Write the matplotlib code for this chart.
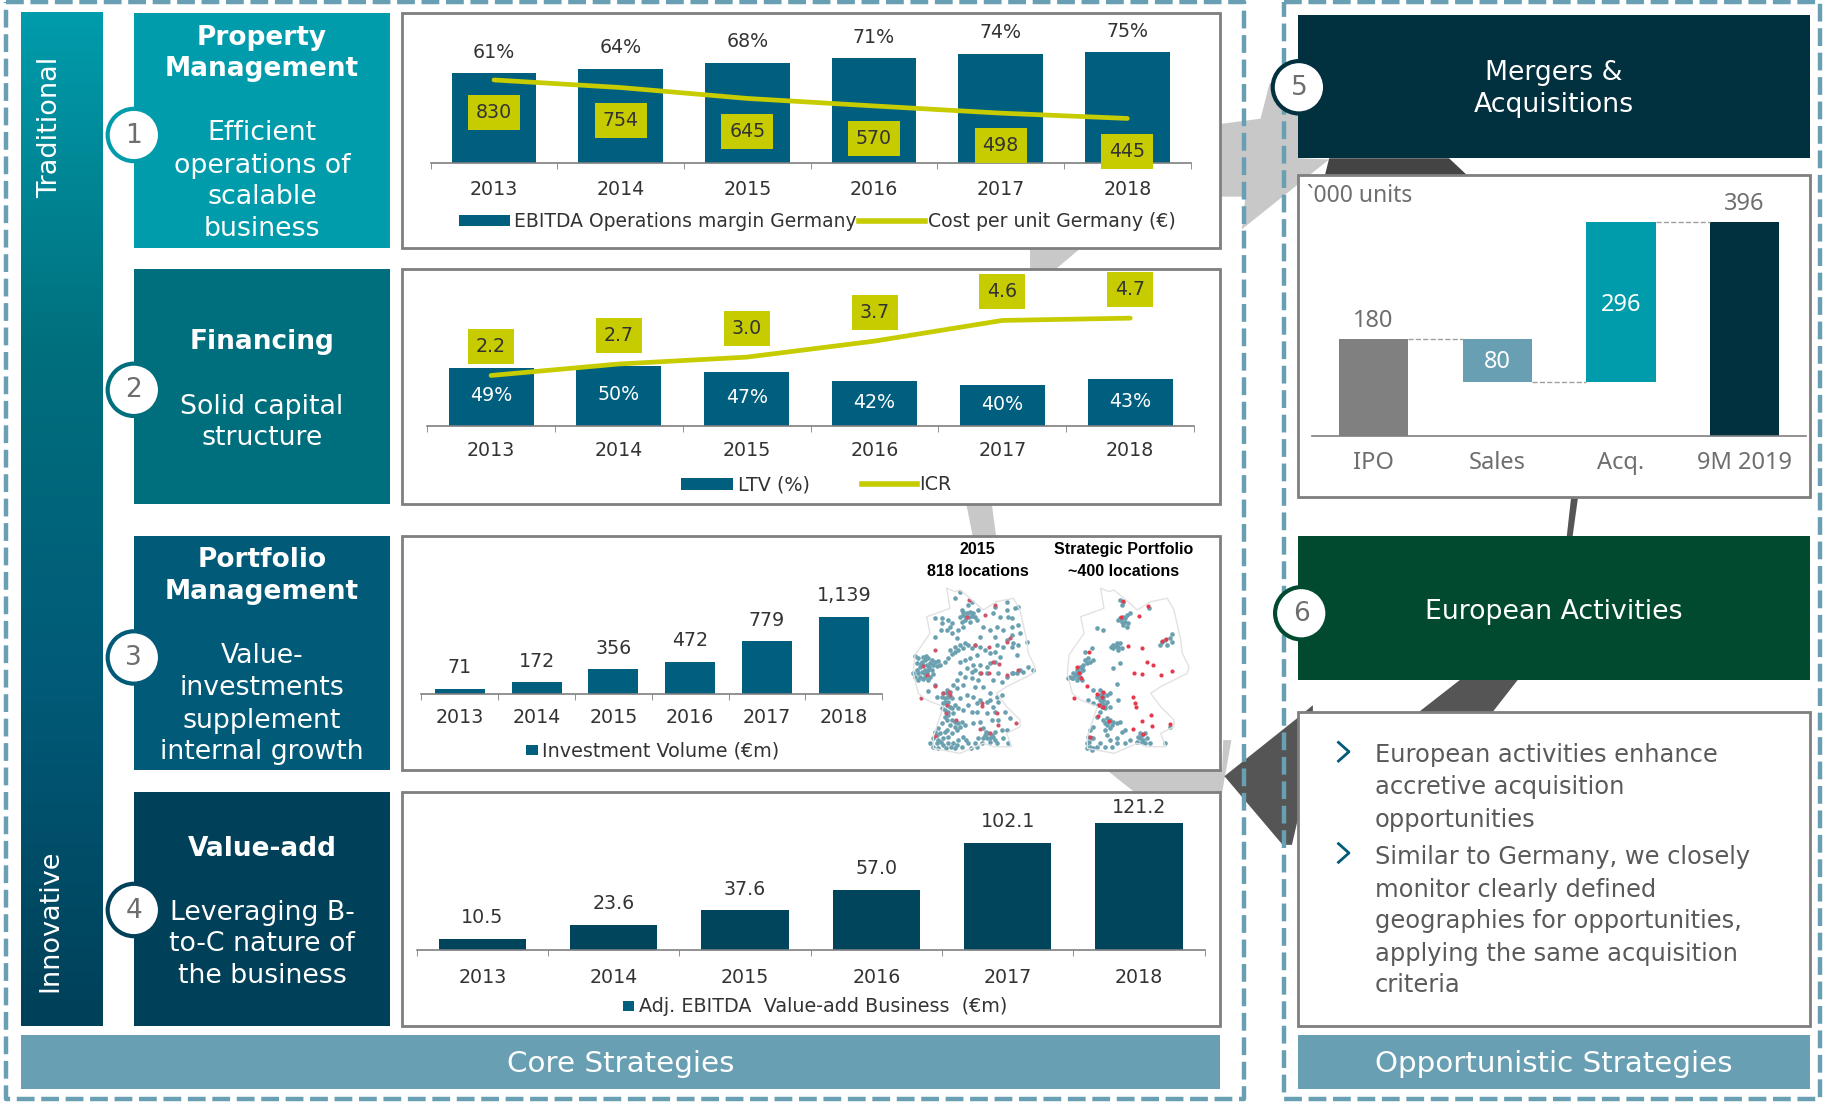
import numpy as np
import matplotlib
matplotlib.use('Agg')
import matplotlib.pyplot as plt
from matplotlib.colors import LinearSegmentedColormap
from matplotlib.patches import Rectangle, Circle, Polygon

# Chart data
years = ['2013', '2014', '2015', '2016', '2017', '2018']
margin = [61, 64, 68, 71, 74, 75]
cost_unit = [830, 754, 645, 570, 498, 445]
ltv = [49, 50, 47, 42, 40, 43]
icr = [2.2, 2.7, 3.0, 3.7, 4.6, 4.7]
invest = [71, 172, 356, 472, 779, 1139]
invest_labels = ['71', '172', '356', '472', '779', '1,139']
adj_ebitda = [10.5, 23.6, 37.6, 57.0, 102.1, 121.2]
wf_cats = ['IPO', 'Sales', 'Acq.', '9M 2019']
wf_bottom = [0, 100, 100, 0]
wf_height = [180, 80, 296, 396]

# Map dots (map crop coordinates)
germany_outline = [(200, 175), (225, 185), (240, 180), (270, 205), (310, 240), (350, 215), (400, 205), (420, 240),
                   (440, 330), (445, 370), (465, 410), (460, 430), (420, 450), (380, 470), (350, 490), (380, 530),
                   (420, 570), (420, 590), (380, 610), (395, 650), (340, 650), (310, 640), (240, 670), (160, 655),
                   (160, 620), (190, 530), (140, 510), (115, 490), (100, 430), (105, 375), (150, 310), (140, 260),
                   (210, 235), (200, 175)]
map1_teal = [(105, 378), (115, 385), (125, 395), (135, 390), (145, 385), (155, 390), (165, 395), (175, 392), (130, 405),
             (140, 405), (150, 400), (160, 405), (170, 408), (180, 405), (120, 410), (110, 420), (100, 430), (115, 430),
             (125, 425), (135, 420), (145, 420), (155, 420), (105, 440), (120, 440), (135, 440), (150, 440), (160, 432),
             (145, 450), (165, 465), (145, 482), (170, 500), (190, 490), (200, 480), (210, 485), (195, 505), (205, 500),
             (215, 505), (190, 520), (200, 525), (210, 530), (195, 540), (205, 545), (215, 535), (225, 525), (195, 560),
             (200, 570), (185, 580), (175, 595), (215, 570), (225, 575), (235, 580), (245, 575), (210, 585), (225, 590),
             (240, 590), (255, 585), (165, 605), (180, 610), (195, 605), (160, 625), (175, 630), (190, 625), (205, 620),
             (215, 610), (160, 650), (175, 655), (190, 645), (205, 640), (220, 640), (235, 630), (250, 620), (245, 650),
             (225, 655), (265, 640), (315, 615), (325, 610), (335, 615), (320, 625), (330, 625), (340, 620), (345, 605),
             (295, 625), (285, 640), (305, 640), (350, 640), (370, 625), (385, 640), (210, 360), (225, 350), (240, 345),
             (255, 340), (215, 372), (235, 360), (265, 345), (285, 345), (300, 350), (315, 360), (330, 370), (240, 395),
             (255, 390), (270, 385), (290, 375), (165, 265), (185, 265), (185, 280), (205, 270), (210, 290), (215, 310),
             (230, 325), (165, 320), (240, 260), (250, 255), (262, 250), (270, 245), (280, 250), (255, 270), (245, 240),
             (265, 225), (275, 215), (240, 185), (225, 205), (268, 262), (285, 262), (295, 240), (340, 250), (345, 230),
             (380, 215), (405, 235), (415, 230), (380, 240), (360, 260), (395, 265), (415, 285), (420, 310), (395, 315),
             (380, 330), (400, 340), (440, 335), (370, 350), (410, 375), (445, 410), (460, 420), (420, 420), (400, 430),
             (380, 440), (330, 400), (345, 395), (360, 380), (300, 405), (285, 420), (260, 415), (240, 430), (230, 450),
             (255, 440), (275, 445), (300, 430), (320, 430), (355, 430), (340, 450), (365, 455), (250, 465), (285, 470),
             (310, 470), (330, 490), (350, 500), (365, 495), (355, 515), (340, 530), (260, 495), (280, 500), (290, 520),
             (265, 525), (250, 540), (275, 545), (320, 550), (375, 545), (390, 565), (355, 570), (335, 570), (300, 575),
             (280, 580), (310, 595), (380, 600), (128, 380), (138, 378), (112, 398), (122, 402), (148, 410), (132, 430),
             (142, 430), (128, 448), (115, 450), (200, 490), (185, 500), (205, 515), (195, 515), (185, 535), (205, 555),
             (220, 550), (230, 600), (200, 600), (170, 640), (182, 635), (198, 655), (212, 650), (170, 615), (150, 640),
             (232, 645), (258, 630), (310, 625), (330, 635), (318, 605), (345, 630), (272, 655), (292, 650), (250, 355),
             (225, 365), (205, 385), (195, 395), (275, 355), (250, 245), (258, 260), (275, 258), (290, 270), (245, 275),
             (270, 275), (182, 300), (215, 280), (200, 300), (235, 300), (250, 290), (310, 290), (330, 300), (300, 320),
             (350, 290), (345, 320), (370, 300), (395, 290), (385, 260), (415, 345), (395, 350), (350, 345), (345, 365),
             (280, 405), (320, 410), (295, 450), (275, 425), (230, 475), (220, 465), (240, 505), (235, 535), (300, 510),
             (320, 515), (330, 510), (290, 545), (345, 545), (365, 600), (395, 430), (430, 425), (410, 430)]
map1_red = [(268, 210), (345, 225), (262, 260), (315, 255), (390, 325), (380, 335), (165, 360), (285, 345), (328, 352),
            (130, 408), (140, 435), (165, 468), (122, 503), (190, 490), (207, 485), (210, 495), (200, 525), (197, 550),
            (305, 518), (307, 528), (352, 550), (355, 585), (408, 580), (300, 597), (228, 570), (165, 618), (330, 610),
            (340, 395), (357, 402), (303, 428), (327, 430), (382, 435), (415, 420)]
map2_teal = [(720, 265), (730, 260), (740, 255), (750, 250), (715, 270), (725, 275), (735, 275), (745, 280), (730, 285),
             (740, 290), (720, 210), (730, 215), (725, 225), (808, 235), (650, 295), (670, 300), (845, 335), (855, 330),
             (870, 325), (840, 345), (860, 345), (875, 312), (875, 335), (700, 345), (710, 340), (720, 340), (700, 355),
             (715, 350), (725, 355), (715, 360), (635, 355), (615, 365), (625, 385), (640, 390), (630, 395), (620, 400),
             (610, 405), (600, 410), (590, 420), (580, 430), (570, 440), (565, 445), (575, 445), (590, 430), (600, 425),
             (610, 420), (600, 440), (590, 450), (605, 450), (640, 480), (700, 415), (720, 400), (710, 462), (660, 480),
             (670, 490), (680, 495), (650, 500), (660, 510), (670, 510), (680, 515), (655, 525), (665, 530), (675, 535),
             (660, 545), (690, 490), (625, 510), (640, 520), (690, 530), (650, 560), (715, 510), (670, 570), (680, 565),
             (690, 570), (700, 575), (710, 580), (720, 575), (680, 585), (695, 585), (690, 595), (675, 600), (640, 590),
             (630, 600), (625, 620), (635, 625), (620, 640), (630, 650), (640, 655), (660, 640), (680, 615), (690, 630),
             (710, 625), (725, 605), (735, 600), (710, 640), (695, 650), (675, 650), (650, 650), (620, 655), (635, 660),
             (785, 615), (795, 610), (780, 625), (790, 630), (800, 625), (770, 635), (795, 640), (810, 640), (750, 630),
             (735, 640), (855, 640), (870, 590), (780, 610), (708, 348), (692, 350), (722, 268), (735, 265), (615, 390),
             (605, 415), (585, 435), (595, 440), (580, 445), (668, 500), (660, 495), (665, 520), (675, 525), (685, 575),
             (675, 580), (785, 635), (775, 620), (640, 625), (628, 635)]
map2_red = [(728, 212), (805, 228), (777, 257), (722, 262), (845, 333), (857, 327), (743, 347), (787, 355), (628, 366),
            (592, 410), (598, 430), (603, 445), (622, 468), (581, 505), (802, 395), (818, 405), (875, 422), (843, 436),
            (763, 430), (787, 433), (668, 485), (650, 492), (667, 500), (657, 525), (670, 530), (655, 557), (760, 500),
            (765, 520), (767, 530), (813, 555), (785, 573), (816, 587), (870, 582), (688, 572), (760, 598), (790, 612),
            (630, 620)]

W, H = 1568, 947
TEAL, PETROL, BLUE, DEEP, NAVY, GREEN = '#009CAC', '#006F7D', '#005A78', '#004058', '#01303F', '#014A30'
BAND, YELLOW, BAR, TXT, GREY = '#689FB2', '#C6CC00', '#005F7F', '#333333', '#6E6E6E'
FS = 13.7

fig = plt.figure(figsize=(18.25, 11.02), dpi=100)

# Full figure layer, laid out in the coordinates of the reference view
bg = fig.add_axes([0, 0, 1, 1])
bg.set_xlim(0, W)
bg.set_ylim(H, 0)
bg.axis('off')


def box(x0, y0, x1, y1, color, z=3):
    bg.add_patch(Rectangle((x0, y0), x1 - x0, y1 - y0, fc=color, ec='none', zorder=z))


def panel(x0, y0, x1, y1):
    bg.add_patch(Rectangle((x0, y0), x1 - x0, y1 - y0, fc='white', ec='#7F7F7F', lw=2, zorder=3))


def label(x, y, s, color='white', size=19.3, **kw):
    bg.text(x, y + 1.5, s, color=color, fontsize=size, ha=kw.pop('ha', 'center'), va='center', zorder=6, **kw)


# Arrows of the circle behind the boxes
for pts in [[(1045, 107), (1083, 102), (1091, 71), (1116, 99), (1116, 136), (1142, 137), (1067, 197), (1070, 169), (1048, 169)],
            [(885, 212), (930, 212), (905, 233), (885, 233)],
            [(830, 432), (852, 432), (856, 462), (836, 462)],
            [(950, 661), (1050, 661), (1051, 636), (1058, 636), (1050, 681), (975, 681)]]:
    bg.add_patch(Polygon(pts, fc='#C8C8C8', ec='none', zorder=1))
for pts, col in [([(1142, 136), (1245, 136), (1262, 152), (1138, 152)], '#444444'),
                 ([(1350, 426), (1356, 426), (1351, 462), (1346, 462)], '#555555'),
                 ([(1305, 583), (1280, 615), (1215, 615), (1256, 583)], '#555555'),
                 ([(1052, 667), (1116, 616), (1128, 606), (1128, 612), (1116, 700), (1110, 726), (1102, 726)], '#555555')]:
    bg.add_patch(Polygon(pts, fc=col, ec='none', zorder=1))

# Dashed frames
for x0, y0, x1, y1 in [(5, 2, 1069, 944), (1103, 2, 1564, 944)]:
    bg.plot([x0, x1, x1, x0, x0], [y0, y0, y1, y1, y0], color=BAND, lw=3.2, dashes=(4, 1.5), zorder=2)

# Left gradient bar
grad = LinearSegmentedColormap.from_list('grad', [TEAL, PETROL, BLUE, DEEP])
bg.imshow(np.linspace(0, 1, 256).reshape(-1, 1), cmap=grad, extent=(18, 88, 882, 11), aspect='auto', zorder=3)
bg.set_xlim(0, W)
bg.set_ylim(H, 0)
label(43, 108, 'Traditional', size=19.5, rotation=90)
label(43, 790, 'Innovative', size=19.5, rotation=90)

# Strategy cards, panels and numbers
cards = [(11, 213, TEAL, ['Property', 'Management'], [31, 58], ['Efficient', 'operations of', 'scalable', 'business'], [113, 141, 168, 195], 116),
         (231, 433, PETROL, ['Financing'], [292], ['Solid capital', 'structure'], [348, 375], 335),
         (461, 662, BLUE, ['Portfolio', 'Management'], [480, 507], ['Value-', 'investments', 'supplement', 'internal growth'], [562, 590, 618, 645], 565),
         (681, 882, DEEP, ['Value-add'], [728], ['Leveraging B-', 'to-C nature of', 'the business'], [783, 810, 837], 782)]
for i, (y0, y1, col, head, head_y, body, body_y, cy) in enumerate(cards):
    box(115, y0, 335, y1, col)
    panel(345, y0, 1048, y1)
    for s, y in zip(head, head_y):
        label(225, y, s, size=19, fontweight='bold')
    for s, y in zip(body, body_y):
        label(225, y, s)
    bg.add_patch(Circle((115, cy), 22.5, fc='white', ec=col, lw=3, zorder=5))
    label(115, cy - 1, str(i + 1), color=GREY, size=19)

# Right column
box(1115, 13, 1555, 136, NAVY)
panel(1115, 150, 1555, 427)
box(1115, 461, 1555, 584, GREEN)
panel(1115, 612, 1555, 882)
label(1335, 61, 'Mergers &')
label(1335, 89, 'Acquisitions')
label(1335, 524, 'European Activities')
for n, cx, cy, col in [('5', 1116, 75, NAVY), ('6', 1118, 527, GREEN)]:
    bg.add_patch(Circle((cx, cy), 22.5, fc='white', ec=col, lw=3, zorder=5))
    label(cx, cy - 1, n, color=GREY, size=19)

# Bottom bands
box(18, 889, 1048, 936, BAND)
box(1115, 889, 1555, 936, BAND)
label(533, 913, 'Core Strategies', size=21.2)
label(1335, 913, 'Opportunistic Strategies', size=21.2)

# Bullets
bullets = [('European activities enhance', 647), ('accretive acquisition', 675), ('opportunities', 703),
           ('Similar to Germany, we closely', 735), ('monitor clearly defined', 763),
           ('geographies for opportunities,', 790), ('applying the same acquisition', 818), ('criteria', 845)]
for s, y in bullets:
    label(1181, y, s, color='#595959', size=17.4, ha='left')
for y in [646, 733]:
    bg.plot([1150, 1159, 1150], [y - 8, y, y + 8], color=BLUE, lw=2, zorder=6)


# Legends, drawn on the layer as in the slide
def swatch(x0, x1, y, h, s, size=13.8):
    box(x0, y - h / 2, x1, y + h / 2, BAR, z=6)
    label(x1 + 4, y - 1, s, color=TXT, size=size, ha='left')


def line_key(x0, x1, y, s, size=13.8):
    bg.plot([x0, x1], [y, y], color=YELLOW, lw=4, zorder=6)
    label(x1 + 2, y - 1, s, color=TXT, size=size, ha='left')


swatch(394, 438, 189.5, 9, 'EBITDA Operations margin Germany', 13.5)
line_key(738, 795, 189.5, 'Cost per unit Germany (€)', 13.6)
swatch(585, 630, 416, 10, 'LTV (%)')
line_key(741, 788, 416, 'ICR')
swatch(452, 462, 644.5, 9, 'Investment Volume (€m)')
swatch(535, 545, 864.5, 9, 'Adj. EBITDA  Value-add Business  (€m)')


def chart_ax(x0, x1, y_top, y_base, ymin, ymax, labels, pad):
    ax = fig.add_axes([x0 / W, 1 - y_base / H, (x1 - x0) / W, (y_base - y_top) / H])
    ax.patch.set_visible(False)
    n = len(labels)
    ax.set_xlim(-0.5, n - 0.5)
    ax.set_ylim(ymin, ymax)
    ax.set_xticks(range(n), labels)
    ax.set_xticks(np.arange(-0.5, n), minor=True)
    ax.tick_params(axis='x', which='major', length=0, pad=pad, labelsize=FS, labelcolor=TXT)
    ax.tick_params(axis='x', which='minor', length=4, color='#7F7F7F', direction='out')
    ax.set_yticks([])
    for side in ['top', 'left', 'right']:
        ax.spines[side].set_visible(False)
    ax.spines['bottom'].set_color('#7F7F7F')
    ax.spines['bottom'].set_linewidth(1.2)
    return ax


def twin_line(ax, values, ymax, texts, offset):
    ax2 = ax.twinx()
    ax2.set_ylim(0, ymax)
    ax2.set_yticks([])
    for side in ax2.spines:
        ax2.spines[side].set_visible(False)
    xs = range(len(values))
    ax2.plot(xs, values, color=YELLOW, lw=3.4, solid_capstyle='round')
    for x, v, s in zip(xs, values, texts):
        ax2.annotate(s, (x, v), xytext=(0, offset), textcoords='offset points', ha='center', va='center',
                     fontsize=FS, color=TXT, bbox=dict(boxstyle='square,pad=0.42', fc=YELLOW, ec='none'))


def top_labels(ax, xs, tops, texts, offs):
    for x, v, s, off in zip(xs, tops, texts, offs):
        ax.annotate(s, (x, v), xytext=(0, off), textcoords='offset points', ha='center', va='center',
                    fontsize=FS, color=TXT)


# 1 Property management
ax1 = chart_ax(370, 1023, 12, 140, 0, 101, years, 12)
ax1.bar(range(6), margin, width=0.67, color=BAR)
top_labels(ax1, range(6), margin, [f'{v}%' for v in margin], [15] * 6)
twin_line(ax1, cost_unit, 1490, [str(v) for v in cost_unit], -23.5)

# 2 Financing, value axis of the bars starts above zero
ax2 = chart_ax(367, 1026, 233, 366, 19, 99, years, 11)
ax2.bar(range(6), ltv, width=0.665, color=BAR)
for x, v in enumerate(ltv):
    ax2.annotate(f'{v}%', (x, (v + 19) / 2), xytext=(0, 1), textcoords='offset points', color='white',
                 fontsize=FS, ha='center', va='center')
twin_line(ax2, icr, 6.75, [f'{v:.1f}' for v in icr], 20.5)

# 3 Portfolio management
ax3 = chart_ax(362, 758, 470, 596, 0, 2170, years, 10.5)
ax3.bar(range(6), invest, width=0.65, color=BAR)
top_labels(ax3, range(6), invest, invest_labels, [15] * 6)

# 4 Value-add
ax4 = chart_ax(358, 1035, 683, 816, 0, 147.7, years, 13)
ax4.bar(range(6), adj_ebitda, width=0.665, color='#00455C')
top_labels(ax4, range(6), adj_ebitda, [f'{v:.1f}' for v in adj_ebitda], [15, 15, 15, 15, 15, 11])

# Waterfall
ax5 = chart_ax(1127, 1552, 152, 375, 0, 480, wf_cats, 10.5)
ax5.tick_params(axis='x', which='minor', length=0)
ax5.tick_params(axis='x', which='major', labelsize=17, labelcolor=GREY)
for t in ax5.get_xticklabels():
    t.set_fontfamily('Noto Sans')
ax5.bar(range(4), wf_height, bottom=wf_bottom, width=0.56, color=['#808080', BAND, TEAL, NAVY])
ax5.plot([0.28, 0.72], [180, 180], color='#A0A0A0', lw=1, ls='--')
ax5.plot([1.28, 1.72], [100, 100], color='#A0A0A0', lw=1, ls='--')
ax5.plot([2.28, 2.72], [396, 396], color='#A0A0A0', lw=1, ls='--')
for x, v in [(0, 180), (3, 396)]:
    ax5.annotate(str(v), (x, v), xytext=(0, 13), textcoords='offset points', ha='center', va='center',
                 fontsize=17, color=GREY, family='Noto Sans')
ax5.annotate('80', (1, 140), xytext=(0, -1), textcoords='offset points', color='white', fontsize=17,
             ha='center', va='center', family='Noto Sans')
ax5.annotate('296', (2, 248), xytext=(0, -2), textcoords='offset points', color='white', fontsize=17,
             ha='center', va='center', family='Noto Sans')
label(1123, 167, '`000 units', color=GREY, size=16.5, ha='left', family='Noto Sans')

# Germany maps
mp = fig.add_axes([880 / 1825, 1 - 770 / 1102, 340 / 1825, 240 / 1102])
mp.set_xlim(0, 1020)
mp.set_ylim(720, 0)
mp.axis('off')
mp.patch.set_visible(False)
ox, oy = zip(*germany_outline)
mp.plot(ox, oy, color='#E2E2E2', lw=1)
mp.plot(np.array(ox) + 462, oy, color='#E2E2E2', lw=1)
for pts, col, sz in [(map1_teal, '#6AA0B0', 11), (map2_teal, '#6AA0B0', 11), (map1_red, '#C9566A', 9), (map2_red, '#E5394C', 9)]:
    xs, ys = zip(*pts)
    mp.scatter(xs, ys, s=sz, color=col, linewidths=0)
for x, lines in [(840, ['2015', '818 locations']), (965, ['Strategic Portfolio', '~400 locations'])]:
    label(x, 471, lines[0], color='black', size=11.5, family='Liberation Sans', fontweight='bold')
    label(x, 490, lines[1], color='black', size=11.5, family='Liberation Sans', fontweight='bold')

fig.savefig('out.png', dpi=100)
